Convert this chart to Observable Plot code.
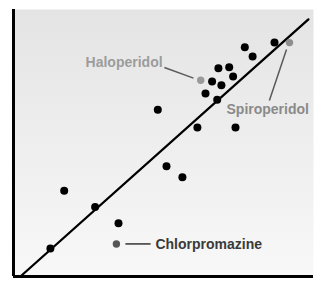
<!DOCTYPE html>
<html>
<head>
<meta charset="utf-8">
<script src="https://cdn.jsdelivr.net/npm/d3@7"></script>
<script src="https://cdn.jsdelivr.net/npm/@observablehq/plot@0.6"></script>
<style>
  html, body { margin: 0; padding: 0; background: #fff; }
  #chart svg { display: block; }
</style>
</head>
<body>
<div id="chart"></div>
<script>
// Unlabelled compounds (x, y in arbitrary units 0–100)
const ptX = [77.1, 79.7, 87.0, 68.3, 71.9, 73.2, 66.2, 69.3, 64.0, 67.9, 48.1, 61.3, 74.0, 51.0, 56.3, 16.9, 27.2, 35.0, 12.3];
const ptY = [85.9, 82.4, 87.6, 78.0, 78.4, 74.9, 73.0, 71.6, 68.5, 66.2, 62.5, 55.8, 55.8, 41.3, 37.2, 32.1, 26.0, 19.9, 10.5];

// Labelled compounds
const namedDrugs = ["Haloperidol", "Spiroperidol", "Chlorpromazine"];
const namedX = [62.4, 92.0, 34.3];
const namedY = [73.5, 87.6, 12.2];
const namedColor = ["#9a9a9a", "#8e8e8e", "#555555"];
const textColor = ["#9c9c9c", "#8a8a8a", "#3a3a3a"];
const leaderColor = ["#5a5a5a", "#5a5a5a", "#333333"];

// Label placement (data units)
const labelX = [49.7, 71.0, 47.3];
const labelY = [80.1, 62.5, 12.1];
const labelAnchor = ["end", "start", "start"];

// Leader lines (data units)
const leadX1 = [50.3, 91.0, 37.3];
const leadY1 = [78.3, 85.0, 12.2];
const leadX2 = [60.0, 85.3, 45.7];
const leadY2 = [74.3, 65.9, 12.2];

// Fitted line endpoints
const fitX = [2.3, 98.3];
const fitY = [0, 96.3];

const pts = ptX.map((x, i) => ({x, y: ptY[i]}));
const named = namedDrugs.map((name, i) => ({
  name, x: namedX[i], y: namedY[i], color: namedColor[i], tcolor: textColor[i],
  lx: labelX[i], ly: labelY[i], anchor: labelAnchor[i],
  x1: leadX1[i], y1: leadY1[i], x2: leadX2[i], y2: leadY2[i], lcolor: leaderColor[i]
}));
const fit = fitX.map((x, i) => ({x, y: fitY[i]}));

const chart = Plot.plot({
  width: 328,
  height: 286,
  marginLeft: 13,
  marginRight: 15,
  marginTop: 9,
  marginBottom: 10,
  x: {domain: [0, 100], axis: null},
  y: {domain: [0, 100], axis: null},
  style: {background: "#fff"},
  marks: [
    Plot.frame({fill: "url(#bggrad)", stroke: null}),
    Plot.line(fit, {x: "x", y: "y", stroke: "#000", strokeWidth: 2.3}),
    Plot.link(named, {x1: "x1", y1: "y1", x2: "x2", y2: "y2", stroke: d => d.lcolor, strokeWidth: 1.5}),
    Plot.dot(pts, {x: "x", y: "y", r: 4, fill: "#000", stroke: null}),
    Plot.dot(named, {x: "x", y: "y", r: 3.7, fill: d => d.color, stroke: null}),
    ...named.map(d => Plot.text([d], {
      x: "lx", y: "ly", text: "name", textAnchor: d.anchor,
      fill: d.tcolor, fontSize: 14, fontWeight: "bold",
      fontFamily: "'Liberation Sans', Arial, sans-serif"
    })),
    Plot.ruleX([0], {stroke: "#000", strokeWidth: 3}),
    Plot.ruleY([0], {stroke: "#000", strokeWidth: 3})
  ]
});

const svg = d3.select(chart);
const defs = svg.insert("defs", ":first-child");
const g = defs.append("linearGradient").attr("id", "bggrad")
  .attr("x1", 0).attr("y1", 0).attr("x2", 0).attr("y2", 1);
g.append("stop").attr("offset", "0%").attr("stop-color", "#e4e4e4");
g.append("stop").attr("offset", "100%").attr("stop-color", "#f8f8f8");

document.getElementById("chart").appendChild(chart);
</script>
</body>
</html>
